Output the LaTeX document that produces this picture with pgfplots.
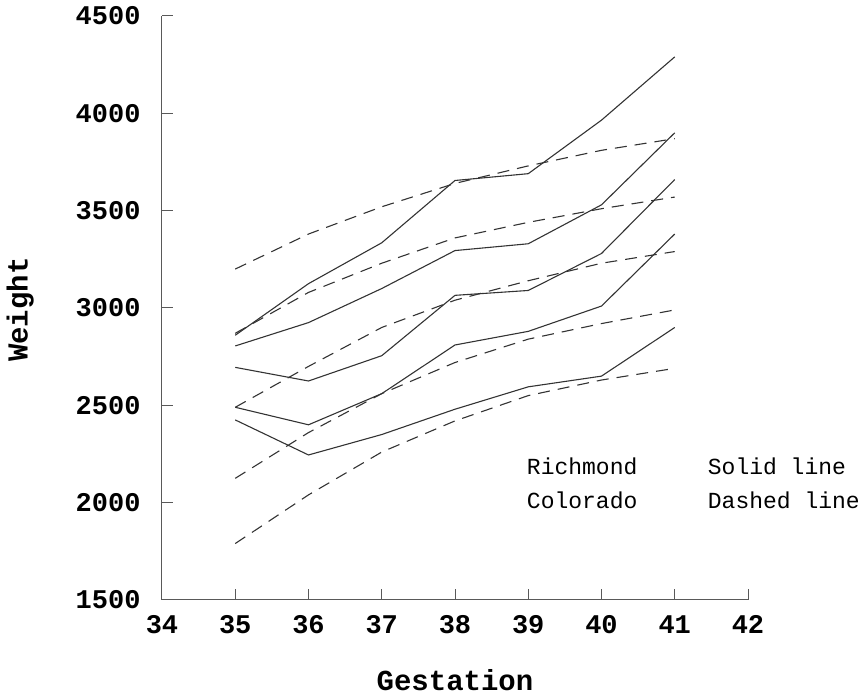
\documentclass[border=0pt]{standalone}
\usepackage{fontspec}
\setmainfont{Liberation Serif}
\setmonofont{Liberation Mono}
\usepackage{pgfplots}
\pgfplotsset{compat=1.18}
\begin{document}
\begin{tikzpicture}
\path[use as bounding box] (-162pt,-96pt) rectangle (703pt,600pt);
\begin{axis}[
  at={(0,0)}, anchor=south west,
  scale only axis, width=586pt, height=584pt,
  xmin=34, xmax=42, ymin=1500, ymax=4500,
  axis line style={draw=none},
  xtick pos=bottom, ytick pos=left,
  tick align=inside,
  xtick={34,...,42}, ytick={1500,2000,...,4500},
  major tick length=11pt,
  tick style={draw=black!65, line width=1pt},
  /pgf/number format/assume math mode=true,
  /pgf/number format/set thousands separator={},
  ticklabel style={font=\ttfamily\bfseries\fontsize{27}{27}\selectfont},
  xticklabel style={yshift=-12pt},
  yticklabel style={xshift=-18pt},
  xlabel={Gestation},
  ylabel={Weight},
  xlabel style={at={(axis description cs:0.5,-0.137)}, anchor=center, font=\ttfamily\bfseries\fontsize{29}{29}\selectfont},
  ylabel style={at={(axis description cs:-0.242,0.497)}, anchor=center, font=\ttfamily\bfseries\fontsize{29}{29}\selectfont},
  clip=false,
]
\draw[black!65, line width=1pt] (rel axis cs:0,1) -- (rel axis cs:0,0) -- (rel axis cs:1,0);
% Richmond (solid)
\addplot[solid, line width=1.1pt, draw=black!80] coordinates {(35,2860) (36,3125) (37,3335) (38,3655) (39,3690) (40,3965) (41,4290)};
\addplot[solid, line width=1.1pt, draw=black!80] coordinates {(35,2805) (36,2925) (37,3100) (38,3295) (39,3330) (40,3530) (41,3900)};
\addplot[solid, line width=1.1pt, draw=black!80] coordinates {(35,2695) (36,2625) (37,2755) (38,3065) (39,3090) (40,3280) (41,3660)};
\addplot[solid, line width=1.1pt, draw=black!80] coordinates {(35,2490) (36,2400) (37,2560) (38,2810) (39,2880) (40,3010) (41,3380)};
\addplot[solid, line width=1.1pt, draw=black!80] coordinates {(35,2425) (36,2245) (37,2350) (38,2480) (39,2595) (40,2650) (41,2900)};
% Colorado (dashed)
\addplot[line width=1.1pt, draw=black!80, dash pattern=on 12pt off 8pt] coordinates {(35,3200) (36,3380) (37,3520) (38,3640) (39,3730) (40,3810) (41,3870)};
\addplot[line width=1.1pt, draw=black!80, dash pattern=on 12pt off 8pt] coordinates {(35,2870) (36,3080) (37,3230) (38,3360) (39,3440) (40,3510) (41,3570)};
\addplot[line width=1.1pt, draw=black!80, dash pattern=on 12pt off 8pt] coordinates {(35,2490) (36,2700) (37,2900) (38,3040) (39,3140) (40,3230) (41,3290)};
\addplot[line width=1.1pt, draw=black!80, dash pattern=on 12pt off 8pt] coordinates {(35,2125) (36,2360) (37,2560) (38,2720) (39,2840) (40,2920) (41,2990)};
\addplot[line width=1.1pt, draw=black!80, dash pattern=on 12pt off 8pt] coordinates {(35,1790) (36,2040) (37,2260) (38,2420) (39,2550) (40,2630) (41,2690)};
\node[anchor=west, inner sep=0pt, font=\ttfamily\fontsize{23}{23}\selectfont] at (axis cs:38.98,2187) {Richmond};
\node[anchor=west, inner sep=0pt, font=\ttfamily\fontsize{23}{23}\selectfont] at (axis cs:38.98,2012) {Colorado};
\node[anchor=west, inner sep=0pt, font=\ttfamily\fontsize{23}{23}\selectfont] at (axis cs:41.45,2187) {Solid line};
\node[anchor=west, inner sep=0pt, font=\ttfamily\fontsize{23}{23}\selectfont] at (axis cs:41.45,2012) {Dashed line};
\end{axis}
\end{tikzpicture}
\end{document}
